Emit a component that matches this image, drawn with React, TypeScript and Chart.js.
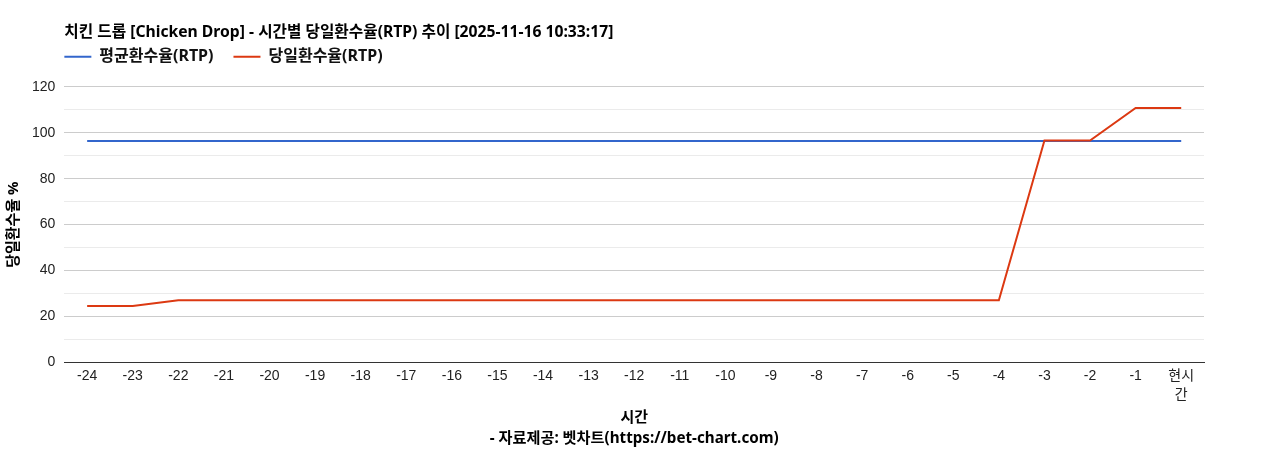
import React, { useRef, useEffect } from 'react'
import { Chart, registerables } from 'chart.js'

Chart.register(...registerables)

const TICK_FONT = "'Liberation Sans', 'Noto Sans CJK KR', sans-serif"
const LABEL_FONT = "'Noto Sans', 'Noto Sans CJK KR', sans-serif"

// hours before now, last one is "now" (wrapped like the original)
const hours: (string | string[])[] = [
  '-24', '-23', '-22', '-21', '-20', '-19', '-18', '-17', '-16', '-15', '-14', '-13',
  '-12', '-11', '-10', '-9', '-8', '-7', '-6', '-5', '-4', '-3', '-2', '-1', ['현시', '간'],
]

const avgRtp = [
  96.4, 96.4, 96.4, 96.4, 96.4, 96.4, 96.4, 96.4, 96.4, 96.4, 96.4, 96.4,
  96.4, 96.4, 96.4, 96.4, 96.4, 96.4, 96.4, 96.4, 96.4, 96.4, 96.4, 96.4, 96.4,
]

const todayRtp = [
  24.6, 24.6, 27.0, 27.0, 27.0, 27.0, 27.0, 27.0, 27.0, 27.0, 27.0, 27.0,
  27.0, 27.0, 27.0, 27.0, 27.0, 27.0, 27.0, 27.0, 27.0, 96.6, 96.6, 110.8, 110.8,
]

const yMin = 0
const yMax = 120
const yStep = 10

const titleText = '치킨 드롭 [Chicken Drop] - 시간별 당일환수율(RTP) 추이 [2025-11-16 10:33:17]'
const creditText = '- 자료제공: 벳차트(https://bet-chart.com)'

// pull the legend flush with the plot's left edge and a bit closer to the title
const legendShift = {
  id: 'legendShift',
  afterLayout(chart: any) {
    const l = chart.legend
    if (!l) return
    l.left -= 20
    l.right -= 20
    l.top -= 12
    l.bottom -= 12
  },
}

export default function App() {
  const chartRef = useRef<HTMLCanvasElement>(null)

  useEffect(() => {
    if (!chartRef.current) return
    const ctx = chartRef.current.getContext('2d')
    if (!ctx) return

    const rtpChart = new Chart(ctx, {
      type: 'line',
      data: {
        labels: hours,
        datasets: [
          {
            label: '평균환수율(RTP)',
            data: avgRtp,
            borderColor: '#3366cc',
            backgroundColor: '#3366cc',
            borderWidth: 2,
            pointRadius: 0,
            fill: false,
            order: 1,
          },
          {
            label: '당일환수율(RTP)',
            data: todayRtp,
            borderColor: '#dc3912',
            backgroundColor: '#dc3912',
            borderWidth: 2,
            pointRadius: 0,
            fill: false,
            order: 0,
          },
        ],
      },
      options: {
        animation: false,
        responsive: true,
        maintainAspectRatio: false,
        layout: { padding: { left: 3, right: 64, top: 0, bottom: 0 } },
        plugins: {
          title: {
            display: true,
            text: titleText,
            align: 'start',
            fullSize: false,
            color: '#000',
            font: { family: LABEL_FONT, size: 15.7, weight: 'bold', lineHeight: 1.2 },
            padding: { top: 23, bottom: -1 },
          },
          legend: {
            display: true,
            align: 'start',
            fullSize: false,
            labels: {
              usePointStyle: true,
              pointStyle: 'line',
              pointStyleWidth: 27,
              padding: 20,
              color: '#111',
              font: { family: LABEL_FONT, size: 16, weight: 'bold' },
              sort: (a: any, b: any) => a.datasetIndex - b.datasetIndex,
            },
          },
          subtitle: {
            display: true,
            text: creditText,
            position: 'bottom',
            fullSize: false,
            color: '#000',
            font: { family: LABEL_FONT, size: 15.2, weight: 'bold', lineHeight: 1.2 },
            padding: { top: 3, bottom: 2 },
          },
          tooltip: { enabled: false },
        },
        scales: {
          x: {
            offset: true,
            grid: { display: false, drawTicks: false },
            border: { display: true, color: '#333', width: 1 },
            ticks: {
              autoSkip: false,
              maxRotation: 0,
              color: '#222',
              padding: 5,
              font: { family: TICK_FONT, size: 14, lineHeight: 1.3 },
            },
            title: {
              display: true,
              text: '시간',
              color: '#000',
              font: { family: LABEL_FONT, size: 15, weight: 'bold', lineHeight: 1.2 },
              padding: { top: 0, bottom: 0 },
            },
          },
          y: {
            min: yMin,
            max: yMax,
            border: { display: false },
            grid: {
              drawTicks: false,
              color: (c: any) => {
                const v = c.tick ? c.tick.value : 1
                if (v === 0) return '#333'
                return v % 20 === 0 ? '#cccccc' : '#ebebeb'
              },
            },
            ticks: {
              stepSize: yStep,
              color: '#222',
              padding: 9,
              font: { family: TICK_FONT, size: 14 },
              callback: (v: any) => (Number(v) % 20 === 0 ? String(v) : ''),
            },
            title: {
              display: true,
              text: '당일환수율 %',
              color: '#000',
              font: { family: LABEL_FONT, size: 15, weight: 'bold', lineHeight: 1.2 },
              padding: { top: 2, bottom: 0 },
            },
          },
        },
      },
      plugins: [legendShift],
    })

    return () => {
      rtpChart.destroy()
    }
  }, [])

  return (
    <div style={{ position: 'absolute', left: 0, top: 0, width: 1268, height: 450 }}>
      <canvas ref={chartRef}></canvas>
    </div>
  )
}
